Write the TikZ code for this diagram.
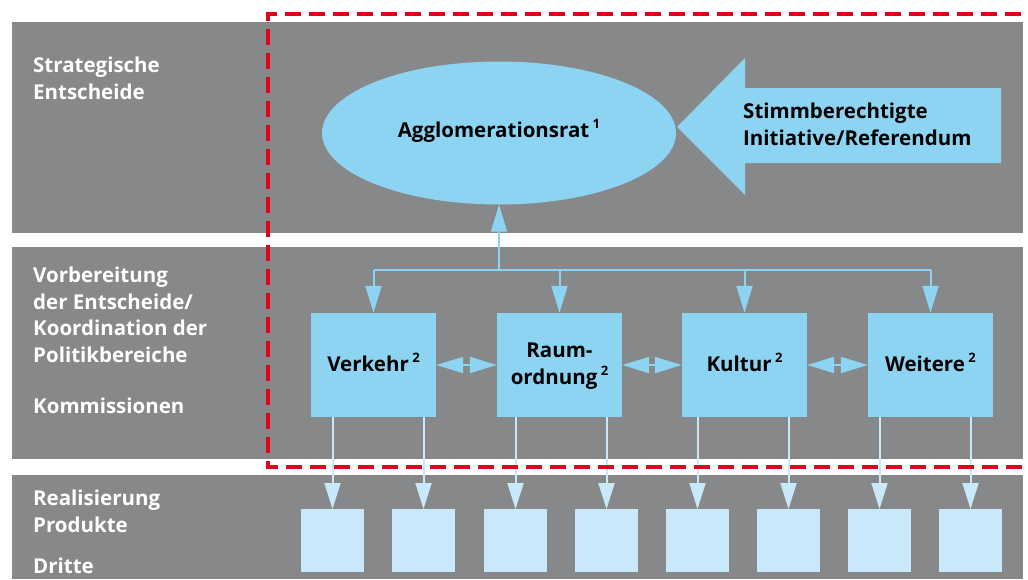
\documentclass[tikz,border=0pt]{standalone}
\usepackage{fontspec}
\setmainfont{Open Sans}
\usetikzlibrary{arrows.meta,shapes.geometric,calc}
\definecolor{band}{HTML}{878889}
\definecolor{sky}{HTML}{8DD4F2}
\definecolor{pale}{HTML}{C8E9F9}
\definecolor{frame}{HTML}{E2001A}
\newcommand{\fn}[1]{\,\raisebox{0.42em}{\fontsize{13}{13}\selectfont\bfseries #1}}
\tikzset{
  label/.style={text=white, font=\fontsize{20.5}{26.5}\selectfont\bfseries, align=left, anchor=base west, inner sep=0},
  body/.style={text=black, font=\fontsize{20.5}{26.5}\selectfont\bfseries, align=center},
  commission/.style={fill=sky, draw=none, minimum width=125pt, minimum height=104pt, inner sep=0, body},
  product/.style={fill=pale, draw=none, minimum width=63pt, minimum height=63pt, inner sep=0},
  link/.style={draw=sky, line width=2pt, -{Triangle[length=27pt,width=16pt]}},
  bothways/.style={draw=sky, line width=2pt, {Triangle[length=27pt,width=16pt]}-{Triangle[length=27pt,width=16pt]}},
  down/.style={draw=pale, line width=2pt, -{Triangle[length=26pt,width=16pt]}},
}
\begin{document}
\begin{tikzpicture}[x=1pt,y=-1pt]
\useasboundingbox (0,0) rectangle (1028,579);
\fill[white] (0,0) rectangle (1028,579);

% three horizontal bands
\fill[band] (12,22) rectangle (1023,233);
\fill[band] (12,247) rectangle (1023,459);
\fill[band] (12,475) rectangle (1023,579);

% band titles (anchored on the baseline of their last line)
\node[label] (lstrat) at (33,99) {Strategische\\Entscheide};
\node[label] (lprep) at (33,362) {Vorbereitung\\der Entscheide/\\Koordination der\\Politikbereiche};
\node[label] (lkom) at (33,413) {Kommissionen};
\node[label] (lreal) at (33,532) {Realisierung\\Produkte};
\node[label] (ldritte) at (33,573) {Dritte};

% council
\node[ellipse, fill=sky, minimum width=354pt, minimum height=143pt, inner sep=0] (agg) at (499,133) {};
\node[body, anchor=base, inner sep=0] (aggtext) at (499,137) {Agglomerationsrat\fn{1}};

% initiative arrow pointing at the council
\fill[sky] (677,127) -- (745,58) -- (745,88) -- (1001,88) -- (1001,163) -- (745,163) -- (745,195) -- cycle;
\node[body, align=left, anchor=base west, inner sep=0] (init) at (743,145) {Stimmberechtigte\\Initiative/Referendum};

% commissions
\node[commission] (verkehr) at (373.5,365) {};
\node[commission] (raum) at (559.5,365) {};
\node[commission] (kultur) at (744.5,365) {};
\node[commission] (weitere) at (930.5,365) {};
\node[body, anchor=base, inner sep=0] (tverkehr) at (373.5,371) {Verkehr\fn{2}};
\node[body, anchor=base, inner sep=0] (traum) at (559.5,384) {Raum-\\ordnung\fn{2}};
\node[body, anchor=base, inner sep=0] (tkultur) at (744.5,371) {Kultur\fn{2}};
\node[body, anchor=base, inner sep=0] (tweitere) at (930.5,371) {Weitere\fn{2}};

% distribution bus
\coordinate (bus) at (499,270);
\draw[link] (bus) -- (agg.south);
\draw[draw=sky, line width=2pt] (verkehr.north |- bus) -- (weitere.north |- bus);
\foreach \c in {verkehr,raum,kultur,weitere}
  \draw[link] (\c.north |- bus) -- (\c.north);

% coordination between commissions
\draw[bothways] (verkehr.east) -- (raum.west);
\draw[bothways] (raum.east) -- (kultur.west);
\draw[bothways] (kultur.east) -- (weitere.west);

% products
\foreach \i/\x in {1/332.5,2/423.5,3/515.5,4/606.5,5/697.5,6/788.5,7/879.5,8/970.5}
  \node[product, anchor=north] (p\i) at (\x,509) {};
\draw[down] (verkehr.south -| p1.north) -- (p1.north);
\draw[down] (verkehr.south -| p2.north) -- (p2.north);
\draw[down] (raum.south -| p3.north) -- (p3.north);
\draw[down] (raum.south -| p4.north) -- (p4.north);
\draw[down] (kultur.south -| p5.north) -- (p5.north);
\draw[down] (kultur.south -| p6.north) -- (p6.north);
\draw[down] (weitere.south -| p7.north) -- (p7.north);
\draw[down] (weitere.south -| p8.north) -- (p8.north);

% scope of the agglomeration
\draw[frame, line width=4pt, dash pattern=on 16pt off 8pt] (1045,14) -- (268,14) -- (268,467) -- (1045,467);
\end{tikzpicture}
\end{document}
